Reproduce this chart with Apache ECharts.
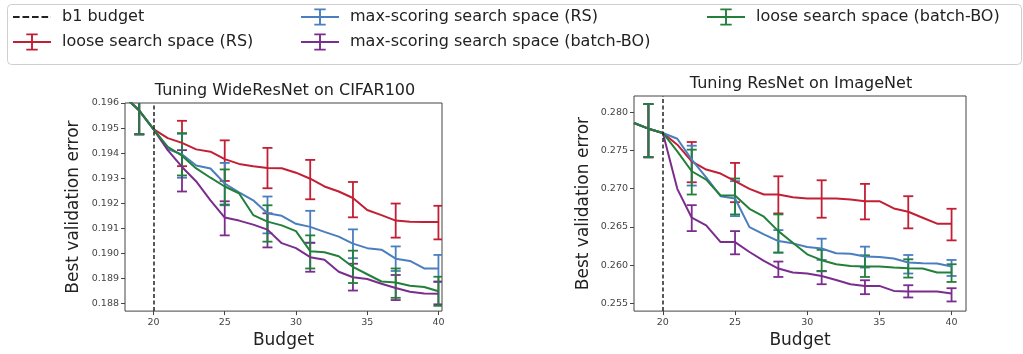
<!DOCTYPE html>
<html>
<head>
<meta charset="utf-8">
<script src="https://cdn.jsdelivr.net/npm/echarts@6/dist/echarts.min.js"></script>
<style>
  html, body { margin: 0; background: #fff; }
  #chart { width: 1023px; height: 354px; }
</style>
</head>
<body>
<div id="chart"></div>
<script>
// budgets on the x axis (same for both panels)
const budgets = [18, 19, 20, 21, 22, 23, 24, 25, 26, 27, 28, 29, 30, 31, 32, 33, 34, 35, 36, 37, 38, 39, 40];
const barBudgets = [19, 22, 25, 28, 31, 34, 37, 40];
const b1Budget = 20;

// WideResNet on CIFAR100
const cifarLooseRS = [0.19624, 0.19570, 0.19496, 0.19460, 0.19441, 0.19415, 0.19406, 0.19376, 0.19357, 0.19348, 0.19341, 0.19340, 0.19322, 0.19298, 0.19267, 0.19247, 0.19221, 0.19173, 0.19153, 0.19131, 0.19126, 0.19125, 0.19125];
const cifarMaxRS = [0.19624, 0.19570, 0.19496, 0.19416, 0.19395, 0.19351, 0.19339, 0.19279, 0.19244, 0.19212, 0.19160, 0.19150, 0.19118, 0.19106, 0.19086, 0.19067, 0.19039, 0.19021, 0.19015, 0.18979, 0.18970, 0.18940, 0.18940];
const cifarMaxBO = [0.19624, 0.19570, 0.19496, 0.19412, 0.19345, 0.19287, 0.19212, 0.19143, 0.19131, 0.19115, 0.19095, 0.19041, 0.19021, 0.18985, 0.18975, 0.18927, 0.18905, 0.18898, 0.18879, 0.18862, 0.18847, 0.18840, 0.18839];
const cifarLooseBO = [0.19624, 0.19570, 0.19496, 0.19425, 0.19390, 0.19339, 0.19302, 0.19267, 0.19240, 0.19153, 0.19127, 0.19112, 0.19089, 0.19009, 0.19005, 0.18989, 0.18946, 0.18917, 0.18888, 0.18884, 0.18871, 0.18866, 0.18849];
// error bar [low, high] at barBudgets
const cifarLooseRSErr = [[0.19475, 0.19665], [0.19348, 0.19529], [0.19289, 0.19451], [0.19260, 0.19421], [0.19216, 0.19373], [0.19144, 0.19285], [0.19063, 0.19199], [0.19056, 0.19190]];
const cifarMaxRSErr = [[0.19475, 0.19665], [0.19302, 0.19477], [0.19192, 0.19361], [0.19080, 0.19227], [0.19042, 0.19170], [0.18981, 0.19096], [0.18930, 0.19028], [0.18886, 0.18994]];
const cifarMaxBOErr = [[0.19475, 0.19665], [0.19247, 0.19412], [0.19072, 0.19208], [0.19024, 0.19160], [0.18927, 0.19043], [0.18852, 0.18959], [0.18814, 0.18914], [0.18797, 0.18888]];
const cifarLooseBOErr = [[0.19475, 0.19665], [0.19311, 0.19480], [0.19195, 0.19335], [0.19047, 0.19192], [0.18940, 0.19072], [0.18882, 0.19011], [0.18823, 0.18940], [0.18791, 0.18907]];

// ResNet on ImageNet
const imgLooseRS = [0.27857, 0.27783, 0.27727, 0.27574, 0.27357, 0.27249, 0.27197, 0.27097, 0.26997, 0.26923, 0.26923, 0.26888, 0.26871, 0.26871, 0.26871, 0.26858, 0.26836, 0.26836, 0.26741, 0.26698, 0.26620, 0.26542, 0.26542];
const imgMaxRS = [0.27857, 0.27783, 0.27727, 0.27652, 0.27379, 0.27148, 0.26901, 0.26871, 0.26497, 0.26402, 0.26315, 0.26285, 0.26237, 0.26218, 0.26155, 0.26150, 0.26112, 0.26108, 0.26086, 0.26034, 0.26025, 0.26021, 0.25982];
const imgMaxBO = [0.27857, 0.27783, 0.27727, 0.26997, 0.26620, 0.26520, 0.26302, 0.26302, 0.26172, 0.26055, 0.25956, 0.25904, 0.25891, 0.25859, 0.25807, 0.25751, 0.25729, 0.25729, 0.25664, 0.25656, 0.25656, 0.25656, 0.25630];
const imgLooseBO = [0.27857, 0.27783, 0.27727, 0.27487, 0.27227, 0.27118, 0.26910, 0.26910, 0.26737, 0.26633, 0.26445, 0.26294, 0.26142, 0.26065, 0.26012, 0.25990, 0.25982, 0.25982, 0.25969, 0.25960, 0.25956, 0.25904, 0.25904];
const imgLooseRSErr = [[0.27410, 0.28104], [0.27083, 0.27609], [0.26823, 0.27336], [0.26676, 0.27161], [0.26620, 0.27109], [0.26598, 0.27062], [0.26481, 0.26901], [0.26324, 0.26737]];
const imgMaxRSErr = [[0.27410, 0.28104], [0.27040, 0.27561], [0.26641, 0.27097], [0.26164, 0.26458], [0.26068, 0.26346], [0.25969, 0.26242], [0.25891, 0.26133], [0.25859, 0.26068]];
const imgMaxBOErr = [[0.27410, 0.28104], [0.26445, 0.26784], [0.26142, 0.26445], [0.25846, 0.26047], [0.25751, 0.25924], [0.25621, 0.25803], [0.25578, 0.25738], [0.25526, 0.25699]];
const imgLooseBOErr = [[0.27410, 0.28104], [0.26923, 0.27509], [0.26663, 0.27132], [0.26164, 0.26663], [0.25920, 0.26200], [0.25846, 0.26129], [0.25838, 0.26077], [0.25781, 0.26012]];

const xTicks = [20, 25, 30, 35, 40];
const cifarYTicks = [0.188, 0.189, 0.190, 0.191, 0.192, 0.193, 0.194, 0.195, 0.196];
const imgYTicks = [0.255, 0.260, 0.265, 0.270, 0.275, 0.280];

const NAMES = {
  b1: 'b1 budget',
  looseRS: 'loose search space (RS)',
  maxRS: 'max-scoring search space (RS)',
  maxBO: 'max-scoring search space (batch-BO)',
  looseBO: 'loose search space (batch-BO)'
};
const COLORS = {
  looseRS: '#c21f35',
  maxRS: '#4a7ebf',
  maxBO: '#7b2d8e',
  looseBO: '#23803a'
};
const FONT = 'DejaVu Sans';

const chart = echarts.init(document.getElementById('chart'));

function renderErr(params, api) {
  const x = api.value(0);
  const hi = api.coord([x, api.value(2)]);
  const lo = api.coord([x, api.value(1)]);
  const c = api.visual('color');
  const w = 5;
  const st = { stroke: c, lineWidth: 1.8 };
  return {
    type: 'group',
    children: [
      { type: 'line', shape: { x1: hi[0], y1: hi[1], x2: lo[0], y2: lo[1] }, style: st },
      { type: 'line', shape: { x1: hi[0] - w, y1: hi[1], x2: hi[0] + w, y2: hi[1] }, style: st },
      { type: 'line', shape: { x1: lo[0] - w, y1: lo[1], x2: lo[0] + w, y2: lo[1] }, style: st }
    ]
  };
}

function panelSeries(idx, lines) {
  const out = [{
    name: NAMES.b1, type: 'line', xAxisIndex: idx, yAxisIndex: idx, data: [],
    color: '#222', symbol: 'none', z: 1,
    markLine: {
      silent: true, symbol: 'none', label: { show: false },
      lineStyle: { color: '#222', type: [4, 2.5], width: 1.5 },
      data: [{ xAxis: b1Budget }]
    }
  }];
  lines.forEach(([key, vals, err]) => {
    out.push({
      name: NAMES[key], type: 'line', xAxisIndex: idx, yAxisIndex: idx,
      color: COLORS[key], symbol: 'none', showSymbol: false,
      lineStyle: { width: 2 },
      data: budgets.map((b, i) => [b, vals[i]]),
      z: 2
    });
    out.push({
      name: NAMES[key], type: 'custom', xAxisIndex: idx, yAxisIndex: idx,
      color: COLORS[key], clip: true, renderItem: renderErr,
      encode: { x: 0, y: [1, 2] },
      data: barBudgets.map((b, i) => [b, err[i][0], err[i][1]]),
      z: 2
    });
  });
  return out;
}

function xAxisOf(idx, min, max) {
  return {
    type: 'value', gridIndex: idx, min: min, max: max,
    name: 'Budget', nameLocation: 'middle', nameGap: 19,
    nameTextStyle: { fontSize: 17, color: '#222', fontFamily: FONT },
    axisLine: { show: false },
    splitLine: { show: false },
    axisTick: { customValues: xTicks, length: 4, lineStyle: { color: '#444' } },
    axisLabel: { customValues: xTicks, fontSize: 9.5, color: '#444', margin: 6, fontFamily: FONT }
  };
}

function yAxisOf(idx, min, max, ticks, gap) {
  return {
    type: 'value', gridIndex: idx, min: min, max: max,
    name: 'Best validation error', nameLocation: 'middle', nameGap: gap,
    nameTextStyle: { fontSize: 17, color: '#222', fontFamily: FONT },
    axisLine: { show: false },
    splitLine: { show: false },
    axisTick: { customValues: ticks, length: 4, lineStyle: { color: '#444' } },
    axisLabel: {
      customValues: ticks, fontSize: 9.5, color: '#444', margin: 6, fontFamily: FONT,
      formatter: v => v.toFixed(3)
    }
  };
}

const errIcon = 'path://M0,9H40V11H0Z M19,1H21V19H19Z M14,1H26V3H14Z M14,17H26V19H14Z';
const dashIcon = 'path://M0,9H7V11H0Z M10,9H17V11H10Z M20,9H27V11H20Z M30,9H37V11H30Z M39.9,9H40V11H39.9Z';

function legendCol(left, items) {
  return {
    orient: 'vertical', left: left, top: 8, padding: 0,
    itemWidth: 38, itemHeight: 18, itemGap: 7,
    textStyle: { fontSize: 16, color: '#222', fontFamily: FONT, lineHeight: 18, padding: [0, 0, 0, 6] },
    data: items.map(([key, icon]) => ({ name: NAMES[key], icon: icon }))
  };
}

chart.setOption({
  animation: false,
  backgroundColor: '#fff',
  textStyle: { fontFamily: FONT },
  graphic: [{
    type: 'rect', left: 5, top: 2, silent: true,
    shape: { width: 1014, height: 60, r: 4 },
    style: { fill: 'none', stroke: '#cfcfcf', lineWidth: 1 }
  }],
  legend: [
    legendCol(13, [['b1', dashIcon], ['looseRS', errIcon]]),
    legendCol(301, [['maxRS', errIcon], ['maxBO', errIcon]]),
    legendCol(707, [['looseBO', errIcon]])
  ],
  title: [
    { text: 'Tuning WideResNet on CIFAR100', left: 285, top: 83, padding: 0, textAlign: 'center',
      textStyle: { fontSize: 16, fontWeight: 'normal', color: '#222', fontFamily: FONT } },
    { text: 'Tuning ResNet on ImageNet', left: 801, top: 76, padding: 0, textAlign: 'center',
      textStyle: { fontSize: 16, fontWeight: 'normal', color: '#222', fontFamily: FONT } }
  ],
  grid: [
    { left: 125, top: 103, width: 317, height: 214, show: true, borderColor: '#444', borderWidth: 1, containLabel: false },
    { left: 634, top: 96, width: 332, height: 216, show: true, borderColor: '#444', borderWidth: 1, containLabel: false }
  ],
  xAxis: [xAxisOf(0, 18, 40.25), xAxisOf(1, 18, 41)],
  yAxis: [yAxisOf(0, 0.1877, 0.196, cifarYTicks, 43), yAxisOf(1, 0.254, 0.2821, imgYTicks, 42)],
  series: [
    ...panelSeries(0, [
      ['looseRS', cifarLooseRS, cifarLooseRSErr],
      ['maxRS', cifarMaxRS, cifarMaxRSErr],
      ['maxBO', cifarMaxBO, cifarMaxBOErr],
      ['looseBO', cifarLooseBO, cifarLooseBOErr]
    ]),
    ...panelSeries(1, [
      ['looseRS', imgLooseRS, imgLooseRSErr],
      ['maxRS', imgMaxRS, imgMaxRSErr],
      ['maxBO', imgMaxBO, imgMaxBOErr],
      ['looseBO', imgLooseBO, imgLooseBOErr]
    ])
  ]
});
</script>
</body>
</html>
